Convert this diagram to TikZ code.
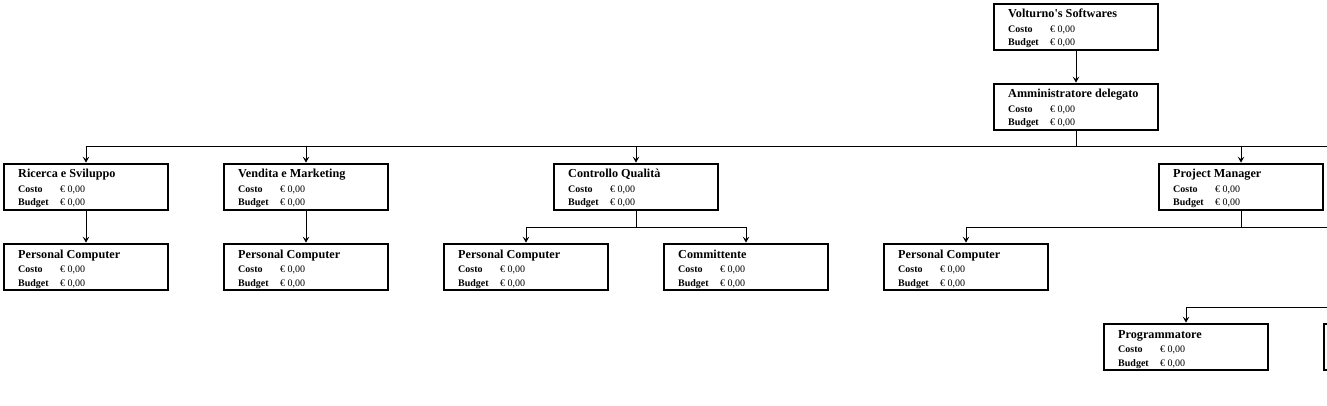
\documentclass[tikz,border=0pt]{standalone}
\usepackage{fontspec}
\setmainfont{Liberation Serif}
\usetikzlibrary{arrows.meta}
\tikzset{
  box/.style={draw, line width=2.2pt, minimum width=164pt, minimum height=46.5pt, inner sep=0pt, fill=white},
  ttl/.style={anchor=base west, inner sep=0pt, font=\fontsize{12.2}{12}\selectfont\bfseries},
  lbl/.style={anchor=base west, inner sep=0pt, font=\fontsize{10}{10}\selectfont\bfseries},
  val/.style={anchor=base west, inner sep=0pt, font=\fontsize{10}{10}\selectfont},
  conn/.style={line width=1pt},
  arr/.style={line width=1pt, -{Stealth[length=6pt,width=6.5pt,inset=2.5pt]}}
}
\newcommand\obox[4]{%
  \node[box] (#1) at (#2,#3) {};
  \node[ttl] (#1t) at ({#2-68},{#3-9}) {#4};
  \node[lbl] (#1c) at ({#2-68},{#3+5.5}) {Costo};
  \node[val] (#1cv) at ({#2-26},{#3+5.5}) {€ 0,00};
  \node[lbl] (#1b) at ({#2-68},{#3+19}) {Budget};
  \node[val] (#1bv) at ({#2-26},{#3+19}) {€ 0,00};
}
\begin{document}
\begin{tikzpicture}[x=1pt,y=-1pt]
\useasboundingbox (0,0) rectangle (1327,406);
\clip (0,0) rectangle (1327,406);
% rails
\coordinate (r1) at (0,147);
\coordinate (r2) at (0,227);
\coordinate (r3) at (0,307);
\coordinate (e1) at (1340,147);
\coordinate (e2) at (1340,227);
\coordinate (e3) at (1340,307);

\obox{vs}{1076}{27}{Volturno\textquotesingle s Softwares}
\obox{ad}{1076}{107}{Amministratore delegato}
\obox{rs}{86}{187}{Ricerca e Sviluppo}
\obox{vm}{306}{187}{Vendita e Marketing}
\obox{cq}{636}{187}{Controllo Qualità}
\obox{pm}{1241}{187}{Project Manager}
\obox{pca}{86}{267}{Personal Computer}
\obox{pcb}{306}{267}{Personal Computer}
\obox{pcc}{526}{267}{Personal Computer}
\obox{cm}{746}{267}{Committente}
\obox{pcd}{966}{267}{Personal Computer}
\obox{pg}{1186}{347}{Programmatore}
\node[box] (px) at (1406,347) {};

% connectors
\draw[arr] (vs.south) -- (ad.north);

\draw[conn] (ad.south) -- (ad.south |- r1);
\draw[conn] (rs.north |- r1) -- (e1);
\draw[arr] (rs.north |- r1) -- (rs.north);
\draw[arr] (vm.north |- r1) -- (vm.north);
\draw[arr] (cq.north |- r1) -- (cq.north);
\draw[arr] (pm.north |- r1) -- (pm.north);

\draw[arr] (rs.south) -- (pca.north);
\draw[arr] (vm.south) -- (pcb.north);

\draw[conn] (cq.south) -- (cq.south |- r2);
\draw[conn] (pcc.north |- r2) -- (cm.north |- r2);
\draw[arr] (pcc.north |- r2) -- (pcc.north);
\draw[arr] (cm.north |- r2) -- (cm.north);

\draw[conn] (pm.south) -- (pm.south |- r2);
\draw[conn] (pcd.north |- r2) -- (e2);
\draw[arr] (pcd.north |- r2) -- (pcd.north);

\draw[conn] (pg.north |- r3) -- (e3);
\draw[arr] (pg.north |- r3) -- (pg.north);
\end{tikzpicture}
\end{document}
